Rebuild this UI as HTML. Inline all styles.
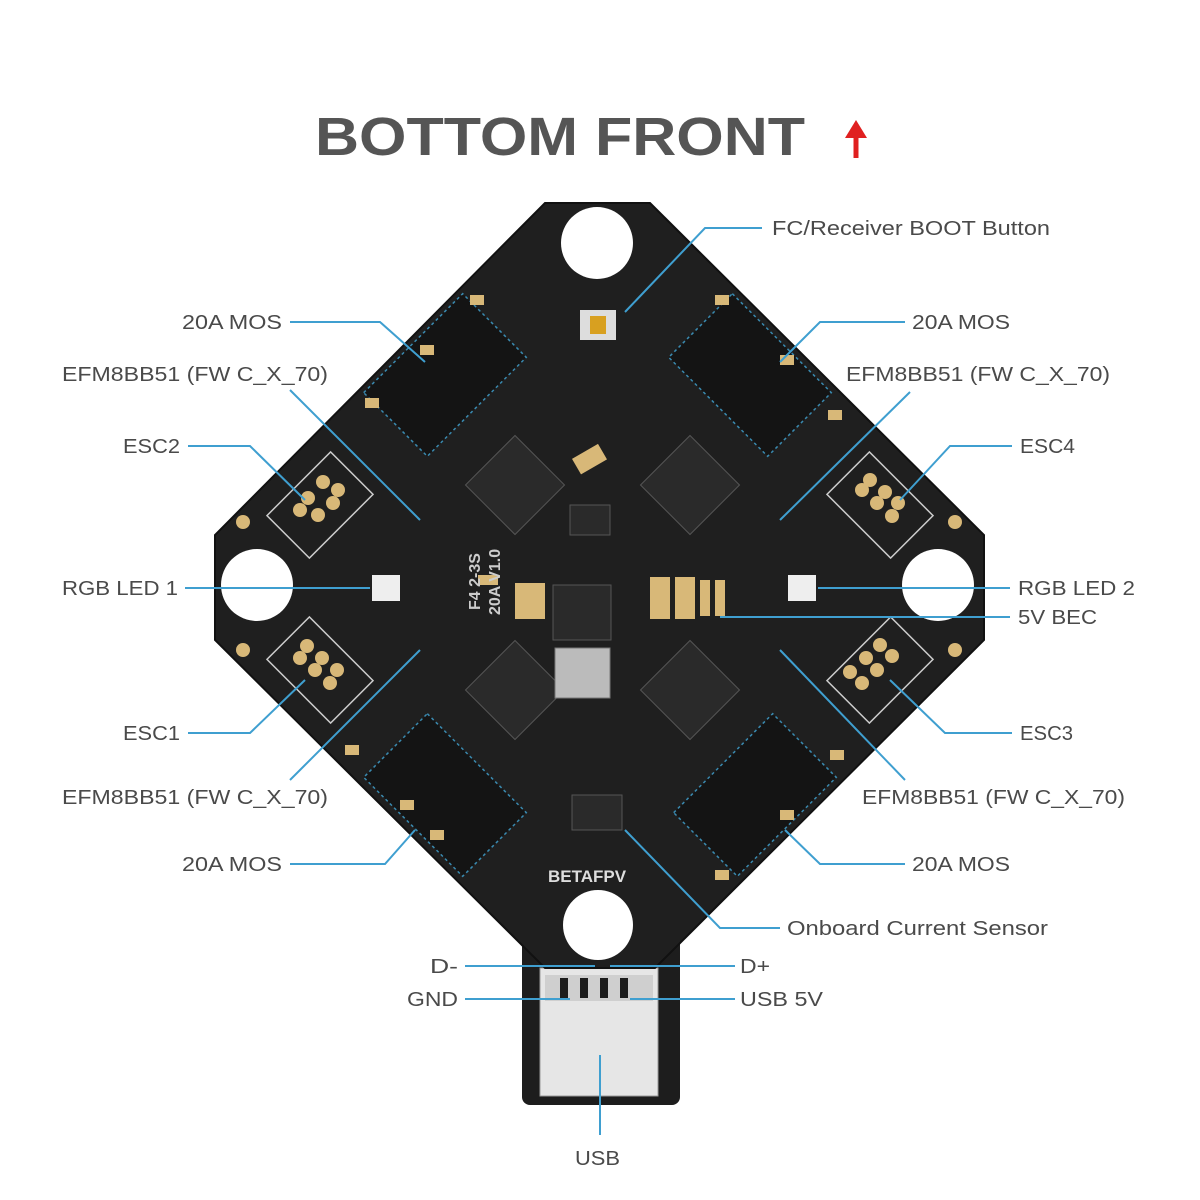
<!DOCTYPE html>
<html><head><meta charset="utf-8"><style>
html,body{margin:0;padding:0;background:#fff;}
svg{display:block}
text{font-family:"Liberation Sans",sans-serif;fill:#4a4a4a;font-size:20px;}
</style></head><body>
<svg width="1200" height="1200" viewBox="0 0 1200 1200" xmlns="http://www.w3.org/2000/svg">
<rect width="1200" height="1200" fill="#fff"/>
<text x="315" y="155" textLength="490" lengthAdjust="spacingAndGlyphs" style="font-size:54px;font-weight:bold;fill:#555">BOTTOM FRONT</text>
<path d="M856 158 L856 132" stroke="#e02020" stroke-width="5" fill="none"/>
<polygon points="845,138 856,120 867,138" fill="#e02020"/>
<!-- USB tab -->
<rect x="522" y="900" width="158" height="205" rx="8" fill="#1d1d1d"/>
<rect x="540" y="968" width="118" height="128" fill="#e6e6e6" stroke="#999"/>
<rect x="545" y="975" width="108" height="26" fill="#cfcfcf"/>
<g fill="#1d1d1d"><rect x="560" y="978" width="8" height="20"/><rect x="580" y="978" width="8" height="20"/><rect x="600" y="978" width="8" height="20"/><rect x="620" y="978" width="8" height="20"/></g>
<!-- board -->
<polygon points="545,203 650,203 984,535 984,640 655,968 545,968 215,640 215,535" fill="#1f1f1f" stroke="#111" stroke-width="2"/>
<!-- MOS blocks -->
<g fill="#141414" stroke="#3a8ab0" stroke-width="1.5" stroke-dasharray="3 3">
<rect x="-70" y="-45" width="140" height="90" transform="translate(445,375) rotate(-45)"/>
<rect x="-70" y="-45" width="140" height="90" transform="translate(750,375) rotate(45)"/>
<rect x="-70" y="-45" width="140" height="90" transform="translate(445,795) rotate(45)"/>
<rect x="-70" y="-45" width="140" height="90" transform="translate(755,795) rotate(-45)"/>
</g>
<!-- MCUs -->
<g fill="#2a2a2a" stroke="#555" stroke-width="1">
<rect x="-35" y="-35" width="70" height="70" transform="translate(515,485) rotate(45)"/>
<rect x="-35" y="-35" width="70" height="70" transform="translate(690,485) rotate(45)"/>
<rect x="-35" y="-35" width="70" height="70" transform="translate(515,690) rotate(45)"/>
<rect x="-35" y="-35" width="70" height="70" transform="translate(690,690) rotate(45)"/>
<rect x="553" y="585" width="58" height="55"/>
<rect x="570" y="505" width="40" height="30"/>
<rect x="572" y="795" width="50" height="35"/>
</g>
<rect x="555" y="648" width="55" height="50" fill="#bbb" stroke="#777"/>
<!-- ESC pad boxes -->
<g fill="none" stroke="#ccc" stroke-width="1.5">
<rect x="-45" y="-30" width="90" height="60" transform="translate(320,505) rotate(-45)"/>
<rect x="-45" y="-30" width="90" height="60" transform="translate(880,505) rotate(45)"/>
<rect x="-45" y="-30" width="90" height="60" transform="translate(320,670) rotate(45)"/>
<rect x="-45" y="-30" width="90" height="60" transform="translate(880,670) rotate(-45)"/>
</g>
<g fill="#d8b878">
<circle cx="308" cy="498" r="7"/><circle cx="323" cy="482" r="7"/><circle cx="338" cy="490" r="7"/><circle cx="318" cy="515" r="7"/><circle cx="333" cy="503" r="7"/><circle cx="300" cy="510" r="7"/>
<circle cx="862" cy="490" r="7"/><circle cx="877" cy="503" r="7"/><circle cx="892" cy="516" r="7"/><circle cx="870" cy="480" r="7"/><circle cx="885" cy="492" r="7"/><circle cx="898" cy="503" r="7"/>
<circle cx="300" cy="658" r="7"/><circle cx="315" cy="670" r="7"/><circle cx="330" cy="683" r="7"/><circle cx="307" cy="646" r="7"/><circle cx="322" cy="658" r="7"/><circle cx="337" cy="670" r="7"/>
<circle cx="862" cy="683" r="7"/><circle cx="877" cy="670" r="7"/><circle cx="892" cy="656" r="7"/><circle cx="850" cy="672" r="7"/><circle cx="866" cy="658" r="7"/><circle cx="880" cy="645" r="7"/>
<circle cx="243" cy="522" r="7"/><circle cx="955" cy="522" r="7"/><circle cx="243" cy="650" r="7"/><circle cx="955" cy="650" r="7"/>
<rect x="470" y="295" width="14" height="10"/><rect x="420" y="345" width="14" height="10"/><rect x="365" y="398" width="14" height="10"/>
<rect x="715" y="295" width="14" height="10"/><rect x="780" y="355" width="14" height="10"/><rect x="828" y="410" width="14" height="10"/>
<rect x="345" y="745" width="14" height="10"/><rect x="400" y="800" width="14" height="10"/><rect x="430" y="830" width="14" height="10"/>
<rect x="830" y="750" width="14" height="10"/><rect x="780" y="810" width="14" height="10"/><rect x="715" y="870" width="14" height="10"/>
<rect x="515" y="583" width="30" height="36"/><rect x="478" y="575" width="20" height="10"/>
<rect x="650" y="577" width="20" height="42"/><rect x="675" y="577" width="20" height="42"/><rect x="700" y="580" width="10" height="36"/><rect x="715" y="580" width="10" height="36"/>
<rect x="575" y="450" width="30" height="18" transform="rotate(-30 590 460)"/>
</g>
<rect x="580" y="310" width="36" height="30" fill="#ddd"/><rect x="590" y="316" width="16" height="18" fill="#d8a020"/>
<rect x="372" y="575" width="28" height="26" fill="#eee"/><rect x="788" y="575" width="28" height="26" fill="#eee"/>
<g fill="#fff">
<circle cx="597" cy="243" r="36"/><circle cx="257" cy="585" r="36"/><circle cx="938" cy="585" r="36"/><circle cx="598" cy="925" r="35"/>
</g>
<text x="548" y="882" style="fill:#ddd;font-weight:bold;font-size:17px">BETAFPV</text>
<text x="0" y="0" transform="translate(480,610) rotate(-90)" style="fill:#ccc;font-size:16px;font-weight:bold">F4 2-3S</text>
<text x="0" y="0" transform="translate(500,615) rotate(-90)" style="fill:#ccc;font-size:16px;font-weight:bold">20A V1.0</text>
<!-- leader lines -->
<g stroke="#3f9fd0" stroke-width="2" fill="none">
<polyline points="762,228 705,228 625,312"/>
<polyline points="290,322 380,322 425,362"/>
<polyline points="290,390 420,520"/>
<polyline points="188,446 250,446 305,500"/>
<polyline points="185,588 370,588"/>
<polyline points="188,733 250,733 305,680"/>
<polyline points="290,780 420,650"/>
<polyline points="290,864 385,864 415,830"/>
<polyline points="905,322 820,322 780,362"/>
<polyline points="910,392 780,520"/>
<polyline points="1012,446 950,446 900,500"/>
<polyline points="1010,588 818,588"/>
<polyline points="1010,617 720,617"/>
<polyline points="1012,733 945,733 890,680"/>
<polyline points="905,780 780,650"/>
<polyline points="905,864 820,864 785,830"/>
<polyline points="780,928 720,928 625,830"/>
<polyline points="465,966 595,966"/><polyline points="735,966 610,966"/>
<polyline points="465,999 570,999"/><polyline points="735,999 630,999"/>
<polyline points="600,1055 600,1135"/>
</g>
<g lengthAdjust="spacingAndGlyphs">
<text x="772" y="235" textLength="278" lengthAdjust="spacingAndGlyphs">FC/Receiver BOOT Button</text>
<text x="182" y="329" textLength="100" lengthAdjust="spacingAndGlyphs">20A MOS</text>
<text x="912" y="329" textLength="98" lengthAdjust="spacingAndGlyphs">20A MOS</text>
<text x="62" y="381" textLength="266" lengthAdjust="spacingAndGlyphs">EFM8BB51 (FW  C_X_70)</text>
<text x="846" y="381" textLength="264" lengthAdjust="spacingAndGlyphs">EFM8BB51 (FW  C_X_70)</text>
<text x="123" y="453" textLength="57" lengthAdjust="spacingAndGlyphs">ESC2</text>
<text x="1020" y="453" textLength="55" lengthAdjust="spacingAndGlyphs">ESC4</text>
<text x="62" y="595" textLength="116" lengthAdjust="spacingAndGlyphs">RGB LED 1</text>
<text x="1018" y="595" textLength="117" lengthAdjust="spacingAndGlyphs">RGB LED 2</text>
<text x="1018" y="624" textLength="79" lengthAdjust="spacingAndGlyphs">5V BEC</text>
<text x="123" y="740" textLength="57" lengthAdjust="spacingAndGlyphs">ESC1</text>
<text x="1020" y="740" textLength="53" lengthAdjust="spacingAndGlyphs">ESC3</text>
<text x="62" y="804" textLength="266" lengthAdjust="spacingAndGlyphs">EFM8BB51 (FW  C_X_70)</text>
<text x="862" y="804" textLength="263" lengthAdjust="spacingAndGlyphs">EFM8BB51 (FW  C_X_70)</text>
<text x="182" y="871" textLength="100" lengthAdjust="spacingAndGlyphs">20A MOS</text>
<text x="912" y="871" textLength="98" lengthAdjust="spacingAndGlyphs">20A MOS</text>
<text x="787" y="935" textLength="261" lengthAdjust="spacingAndGlyphs">Onboard Current Sensor</text>
<text x="430" y="973" textLength="28" lengthAdjust="spacingAndGlyphs">D-</text>
<text x="740" y="973" textLength="30" lengthAdjust="spacingAndGlyphs">D+</text>
<text x="407" y="1006" textLength="51" lengthAdjust="spacingAndGlyphs">GND</text>
<text x="740" y="1006" textLength="83" lengthAdjust="spacingAndGlyphs">USB 5V</text>
<text x="575" y="1165" textLength="45" lengthAdjust="spacingAndGlyphs">USB</text>
</g>
</svg>
</body></html>
